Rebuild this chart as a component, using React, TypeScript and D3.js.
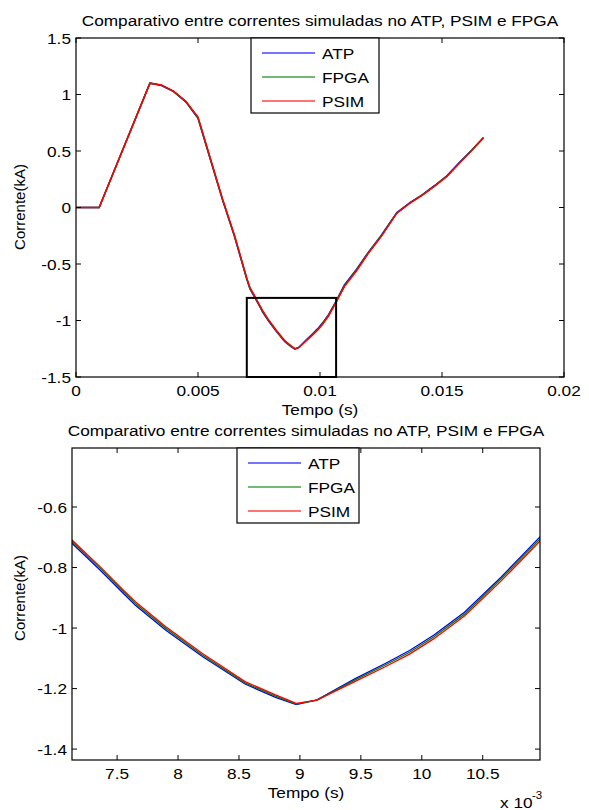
import React, { useEffect, useRef } from 'react';
import * as d3 from 'd3';

// time in ms, current in kA
const timeMs = [0, 0.95, 3.03, 3.5, 4.0, 4.5, 5.0, 5.5, 6.0, 6.5, 7.0, 7.13, 7.36, 7.55, 7.65, 7.9, 8.2, 8.55, 8.8, 8.97, 9.14, 9.45, 9.7, 9.9, 10.1, 10.35, 10.65, 11.0, 11.5, 12.0, 12.5, 13.15, 13.7, 14.2, 14.7, 15.2, 15.7, 16.2, 16.7];
const atp = [0, 0, 1.10, 1.08, 1.025, 0.935, 0.79, 0.43, 0.07, -0.26, -0.635, -0.720, -0.808, -0.885, -0.925, -1.007, -1.094, -1.185, -1.229, -1.253, -1.237, -1.168, -1.117, -1.074, -1.023, -0.948, -0.832, -0.686, -0.545, -0.39, -0.25, -0.045, 0.045, 0.115, 0.195, 0.28, 0.395, 0.505, 0.62];
const fpga = [0, 0, 1.10, 1.083, 1.028, 0.937, 0.795, 0.435, 0.075, -0.255, -0.63, -0.714, -0.802, -0.879, -0.919, -1.001, -1.089, -1.181, -1.225, -1.251, -1.238, -1.172, -1.122, -1.080, -1.029, -0.954, -0.838, -0.693, -0.552, -0.395, -0.255, -0.048, 0.042, 0.112, 0.192, 0.278, 0.392, 0.502, 0.617];
const psim = [0, 0, 1.10, 1.085, 1.03, 0.94, 0.80, 0.44, 0.08, -0.25, -0.625, -0.709, -0.797, -0.874, -0.913, -0.996, -1.084, -1.177, -1.221, -1.249, -1.238, -1.177, -1.128, -1.086, -1.035, -0.960, -0.845, -0.700, -0.56, -0.40, -0.26, -0.05, 0.04, 0.11, 0.19, 0.275, 0.39, 0.50, 0.615];

const seriesNames = ['ATP', 'FPGA', 'PSIM'];
const seriesColors = ['#0000ff', '#008000', '#ff0000'];

const titleText = 'Comparativo entre correntes simuladas no ATP, PSIM e FPGA';
const xLabelText = 'Tempo (s)';
const yLabelText = 'Corrente(kA)';

const topXTicks = [0, 0.005, 0.01, 0.015, 0.02];
const topXTickLabels = ['0', '0.005', '0.01', '0.015', '0.02'];
const topYTicks = [-1.5, -1, -0.5, 0, 0.5, 1, 1.5];
const topYTickLabels = ['-1.5', '-1', '-0.5', '0', '0.5', '1', '1.5'];

const zoomXTicks = [0.0075, 0.008, 0.0085, 0.009, 0.0095, 0.01, 0.0105];
const zoomXTickLabels = ['7.5', '8', '8.5', '9', '9.5', '10', '10.5'];
const zoomYTicks = [-1.4, -1.2, -1, -0.8, -0.6];
const zoomYTickLabels = ['-1.4', '-1.2', '-1', '-0.8', '-0.6'];

// zoom window drawn on the upper plot (data units)
const zoomWindowX = [0.007, 0.01066];
const zoomWindowY = [-1.5, -0.8];

const FONT = '"Liberation Sans", Arial, Helvetica, sans-serif';
const STRETCH = 1.15;

const addText = (g, x, y, str, anchor = 'start', size = 15) =>
  g.append('text')
    .attr('transform', `translate(${x},${y}) scale(${STRETCH},1)`)
    .attr('text-anchor', anchor)
    .attr('font-family', FONT)
    .attr('font-size', size)
    .attr('fill', '#000')
    .text(str);

const drawPanel = (svg, cfg) => {
  const { left, right, top, bottom, xDomain, yDomain, xTicks, xTickLabels, yTicks, yTickLabels, legend, id } = cfg;
  const x = d3.scaleLinear().domain(xDomain).range([left, right]);
  const y = d3.scaleLinear().domain(yDomain).range([bottom, top]);
  const g = svg.append('g');

  g.append('clipPath').attr('id', id)
    .append('rect')
    .attr('x', left).attr('y', top)
    .attr('width', right - left).attr('height', bottom - top);

  // curves
  const values = [atp, fpga, psim];
  const line = d3.line().x(d => x(d[0])).y(d => y(d[1]));
  values.forEach((vals, i) => {
    g.append('path')
      .datum(timeMs.map((t, k) => [t / 1000, vals[k]]))
      .attr('clip-path', `url(#${id})`)
      .attr('fill', 'none')
      .attr('stroke', seriesColors[i])
      .attr('stroke-width', cfg.lineWidth)
      .attr('d', line);
  });

  // box
  g.append('rect')
    .attr('x', left).attr('y', top)
    .attr('width', right - left).attr('height', bottom - top)
    .attr('fill', 'none').attr('stroke', '#000').attr('stroke-width', 1.2);

  // ticks, inward on all sides
  const tl = 5;
  xTicks.forEach((v, i) => {
    const px = x(v);
    g.append('line').attr('x1', px).attr('x2', px).attr('y1', bottom).attr('y2', bottom - tl).attr('stroke', '#000');
    g.append('line').attr('x1', px).attr('x2', px).attr('y1', top).attr('y2', top + tl).attr('stroke', '#000');
    addText(g, px, bottom + 19, xTickLabels[i], 'middle');
  });
  yTicks.forEach((v, i) => {
    const py = y(v);
    g.append('line').attr('x1', left).attr('x2', left + tl).attr('y1', py).attr('y2', py).attr('stroke', '#000');
    g.append('line').attr('x1', right).attr('x2', right - tl).attr('y1', py).attr('y2', py).attr('stroke', '#000');
    addText(g, left - 5, py + 5.5, yTickLabels[i], 'end');
  });

  // labels
  addText(g, (left + right) / 2, top - 12, titleText, 'middle', 15);
  addText(g, (left + right) / 2, bottom + 38, xLabelText, 'middle');
  g.append('text')
    .attr('transform', `translate(25,${cfg.yLabelY}) rotate(-90)`)
    .attr('text-anchor', 'middle')
    .attr('font-family', FONT)
    .attr('font-size', 15)
    .text(yLabelText);

  // legend
  const lg = g.append('g');
  lg.append('rect')
    .attr('x', legend.x).attr('y', top).attr('width', legend.w).attr('height', 75)
    .attr('fill', '#fff').attr('stroke', '#000').attr('stroke-width', 1.2);
  seriesNames.forEach((name, i) => {
    const ly = Math.round(top + 15 + i * 24);
    lg.append('path')
      .attr('d', `M${legend.x + 11},${ly}H${legend.x + 64}`)
      .attr('fill', 'none')
      .style('stroke', seriesColors[i])
      .style('stroke-width', 2)
      .style('stroke-opacity', 0.55);
    addText(lg, legend.x + 71, ly + 5.5, name, 'start');
  });

  return { g, x, y };
};

const App = () => {
  const ref = useRef(null);

  useEffect(() => {
    const svg = d3.select(ref.current);
    svg.selectAll('*').remove();

    const upper = drawPanel(svg, {
      id: 'clip-top',
      left: 76, right: 564, top: 38, bottom: 377,
      xDomain: [0, 0.02], yDomain: [-1.5, 1.5],
      xTicks: topXTicks, xTickLabels: topXTickLabels,
      yTicks: topYTicks, yTickLabels: topYTickLabels,
      legend: { x: 251, w: 128 },
      yLabelY: 207,
      lineWidth: 1.5,
    });

    // zoom window rectangle
    upper.g.append('rect')
      .attr('x', upper.x(zoomWindowX[0]))
      .attr('y', upper.y(zoomWindowY[1]))
      .attr('width', upper.x(zoomWindowX[1]) - upper.x(zoomWindowX[0]))
      .attr('height', upper.y(zoomWindowY[0]) - upper.y(zoomWindowY[1]))
      .attr('fill', 'none').attr('stroke', '#000').attr('stroke-width', 2);

    const lower = drawPanel(svg, {
      id: 'clip-bottom',
      left: 72, right: 540, top: 448, bottom: 760,
      xDomain: [0.00713, 0.01097], yDomain: [-1.436, -0.405],
      xTicks: zoomXTicks, xTickLabels: zoomXTickLabels,
      yTicks: zoomYTicks, yTickLabels: zoomYTickLabels,
      legend: { x: 237, w: 122 },
      yLabelY: 598,
      lineWidth: 1.3,
    });

    // exponent label
    addText(lower.g, 500, 808, 'x 10', 'start');
    addText(lower.g, 532, 799, '-3', 'start', 10);
  }, []);

  return (
    <svg ref={ref} width={589} height={810}
      style={{ position: 'absolute', left: 0, top: 0, background: '#fff' }} />
  );
};

export default App;
